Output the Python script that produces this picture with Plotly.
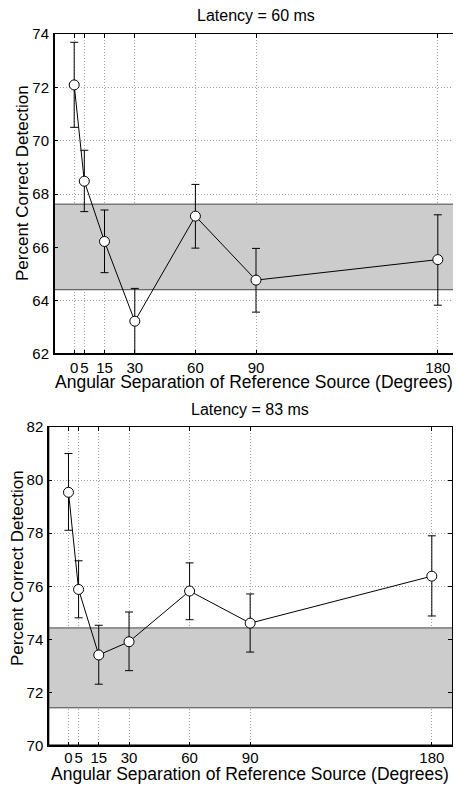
import plotly.graph_objects as go

angles = [0, 5, 15, 30, 60, 90, 180]
x_ticks = [0, 5, 15, 30, 60, 90, 180]
x_range = [-10, 190]

# Latency = 60 ms
top_mean = [72.09, 68.48, 66.22, 63.23, 67.17, 64.77, 65.54]
top_hi = [73.69, 69.64, 67.40, 64.46, 68.36, 65.96, 67.22]
top_lo = [70.50, 67.34, 65.05, 62.02, 65.97, 63.57, 63.83]
top_band = [64.41, 67.62]
top_yticks = [62, 64, 66, 68, 70, 72, 74]

# Latency = 83 ms
bot_mean = [79.54, 75.88, 73.41, 73.91, 75.82, 74.61, 76.38]
bot_hi = [81.00, 76.96, 74.53, 75.03, 76.88, 75.71, 77.90]
bot_lo = [78.11, 74.81, 72.31, 72.82, 74.74, 73.52, 74.88]
bot_band = [71.42, 74.43]
bot_yticks = [70, 72, 74, 76, 78, 80, 82]

titles = ["Latency = 60 ms", "Latency = 83 ms"]
xlabel = "Angular Separation of Reference Source (Degrees)"
ylabel = "Percent Correct Detection"

W, H = 461, 786
OFF = 8  # page body margin in the browser
FONT = "Liberation Sans, Arial, Helvetica, sans-serif"


def fx(px):
    return (px - OFF) / W


def fy(py):
    return 1 - (py - OFF) / H


fig = go.Figure()

panels = [
    dict(mean=top_mean, hi=top_hi, lo=top_lo, band=top_band, yticks=top_yticks,
         xa="x", ya="y", xdom=[fx(54), fx(458)], ydom=[fy(354), fy(34)],
         title=titles[0], title_y=fy(16), title_x=fx(256), xstand=0,
         xl_x=fx(254), xl_y=fy(382), yl_x=fx(22), yl_y=fy(183)),
    dict(mean=bot_mean, hi=bot_hi, lo=bot_lo, band=bot_band, yticks=bot_yticks,
         xa="x2", ya="y2", xdom=[fx(48.3), fx(452)], ydom=[fy(745.5), fy(427)],
         title=titles[1], title_y=fy(409), title_x=fx(250), xstand=-2,
         xl_x=fx(250), xl_y=fy(774), yl_x=fx(17), yl_y=fy(568)),
]

for i, p in enumerate(panels):
    sfx = "" if i == 0 else "2"
    lo_b, hi_b = p["band"]
    # grey reference band (drawn as a trace so it covers the grid)
    fig.add_trace(go.Scatter(
        x=[x_range[0], x_range[1], x_range[1], x_range[0], x_range[0]],
        y=[lo_b, lo_b, hi_b, hi_b, lo_b],
        xaxis=p["xa"], yaxis=p["ya"], mode="none", fill="toself",
        fillcolor="#cccccc", showlegend=False, hoverinfo="skip",
    ))
    for yv in p["band"]:
        fig.add_trace(go.Scatter(
            x=x_range, y=[yv, yv], xaxis=p["xa"], yaxis=p["ya"], mode="lines",
            line=dict(color="#444444", width=1), showlegend=False, hoverinfo="skip",
        ))

    plus = [h - m for h, m in zip(p["hi"], p["mean"])]
    minus = [m - l for m, l in zip(p["mean"], p["lo"])]
    fig.add_trace(go.Scatter(
        x=angles, y=p["mean"], xaxis=p["xa"], yaxis=p["ya"],
        mode="lines+markers",
        line=dict(color="black", width=1),
        marker=dict(symbol="circle", size=10, color="white", line=dict(color="black", width=1)),
        error_y=dict(type="data", symmetric=False, array=plus, arrayminus=minus,
                     color="black", thickness=1, width=4),
        showlegend=False,
    ))

    axcommon = dict(showline=True, linecolor="black", linewidth=1, mirror="ticks",
                    ticks="inside", ticklen=4, tickcolor="black", automargin=False,
                    showgrid=True, gridcolor="#a0a0a0", griddash="1px,2px", gridwidth=1,
                    zeroline=False, tickangle=0,
                    tickfont=dict(family=FONT, size=15, color="black"))
    fig.update_layout(**{
        f"xaxis{sfx}": dict(domain=p["xdom"], range=x_range, tickmode="array",
                            tickvals=x_ticks, ticktext=[str(t) for t in x_ticks],
                            anchor=f"y{sfx}", ticklabelstandoff=p["xstand"], **axcommon),
        f"yaxis{sfx}": dict(domain=p["ydom"], range=[p["yticks"][0], p["yticks"][-1]],
                            tickmode="array", tickvals=p["yticks"], anchor=f"x{sfx}",
                            ticklabelstandoff=1, **axcommon),
    })
    # thicker left and bottom axis lines
    fig.add_shape(type="line", xref=f"x{sfx} domain", yref=f"y{sfx} domain",
                  x0=0, x1=0, y0=0, y1=1, line=dict(color="black", width=2))
    fig.add_shape(type="line", xref=f"x{sfx} domain", yref=f"y{sfx} domain",
                  x0=0, x1=1, y0=0, y1=0, line=dict(color="black", width=2))

    fig.add_annotation(text=p["title"], xref="paper", yref="paper", x=p["title_x"],
                       y=p["title_y"], showarrow=False, xanchor="center", yanchor="middle",
                       font=dict(family=FONT, size=16, color="black"))
    fig.add_annotation(text=xlabel, xref="paper", yref="paper",
                       x=p["xl_x"], y=p["xl_y"], showarrow=False,
                       xanchor="center", yanchor="middle",
                       font=dict(family=FONT, size=17.5, color="black"))
    fig.add_annotation(text=ylabel, xref="paper", yref="paper", x=p["yl_x"],
                       y=p["yl_y"], showarrow=False, textangle=-90,
                       xanchor="center", yanchor="middle",
                       font=dict(family=FONT, size=17, color="black"))

fig.update_layout(width=W, height=H, margin=dict(l=0, r=0, t=0, b=0, autoexpand=False),
                  paper_bgcolor="white", plot_bgcolor="white")
fig.write_html("out.html")
